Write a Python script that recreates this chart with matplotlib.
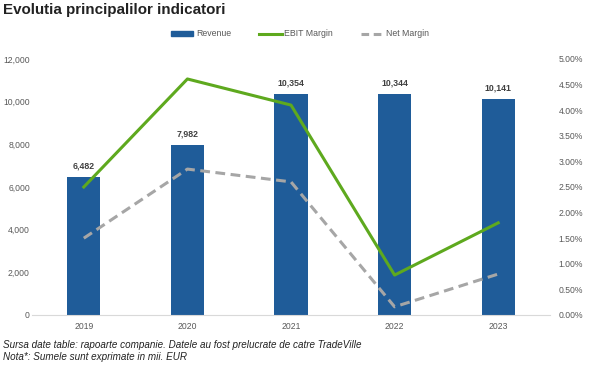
import numpy as np
import matplotlib.pyplot as plt
from matplotlib.lines import Line2D
from matplotlib.patches import Patch
from matplotlib.ticker import FuncFormatter

plt.rcParams['font.family'] = ['Liberation Sans', 'DejaVu Sans']

# Data
years = ['2019', '2020', '2021', '2022', '2023']
revenue = [6482, 7982, 10354, 10344, 10141]
ebit_margin = [2.50, 4.61, 4.10, 0.78, 1.80]   # %
net_margin = [1.50, 2.85, 2.60, 0.16, 0.80]    # %

bar_color = '#1F5C99'
green = '#5EA91E'
grey = '#A6A6A6'
tick_grey = '#595959'

fig = plt.figure(figsize=(6, 3.66), dpi=100)
ax = fig.add_axes([32 / 600, 51 / 366, 518 / 600, 256 / 366])
ax2 = ax.twinx()

x = np.arange(len(years))
bars = ax.bar(x, revenue, width=0.32, color=bar_color, zorder=2)
for xi, v in zip(x, revenue):
    ax.text(xi, v + 300, f'{v:,}', ha='center', va='bottom', fontsize=6.3,
            color='#404040', fontweight='bold')

ax2.plot(x, ebit_margin, color=green, lw=2.2, zorder=3)
ax2.plot(x, net_margin, color=grey, lw=2.2, ls=(0, (3.2, 1.8)), zorder=3)

ax.set_xlim(-0.5, 4.5)
ax.set_ylim(0, 12000)
ax.set_yticks(np.arange(0, 12001, 2000))
ax.yaxis.set_major_formatter(FuncFormatter(lambda v, p: f'{int(v):,}'))
ax2.set_ylim(0, 5)
ax2.set_yticks(np.arange(0, 5.01, 0.5))
ax2.yaxis.set_major_formatter(FuncFormatter(lambda v, p: f'{v:.2f}%'))
ax.set_xticks(x)
ax.set_xticklabels(years)

for a in (ax, ax2):
    for s in a.spines.values():
        s.set_visible(False)
    a.tick_params(length=0, labelsize=6.2, colors=tick_grey)
ax.spines['bottom'].set_visible(True)
ax.spines['bottom'].set_color('#D9D9D9')
ax.tick_params(axis='y', pad=1.5)
ax.tick_params(axis='x', pad=5)
ax2.tick_params(axis='y', pad=6)

fig.text(3 / 600, 1 - 10 / 366, 'Evolutia principalilor indicatori', fontsize=10.9,
         fontweight='bold', color='#222222', ha='left', va='center')

handles = [Patch(color=bar_color), Line2D([], [], color=green, lw=2.2),
           Line2D([], [], color=grey, lw=2.2, ls=(0, (2.5, 1.5)))]
fig.legend(handles, ['Revenue', 'EBIT Margin', 'Net Margin'], loc='center',
           bbox_to_anchor=(0.5, 1 - 34 / 366), ncol=3, frameon=False,
           fontsize=6.3, handlelength=2.6, handleheight=0.5, columnspacing=3.2,
           handletextpad=0.3, labelcolor=tick_grey)

fig.text(3 / 600, 1 - 345 / 366,
         'Sursa date table: rapoarte companie. Datele au fost prelucrate de catre TradeVille',
         fontsize=7.1, style='italic', color='#222222', ha='left', va='center')
fig.text(3 / 600, 1 - 357 / 366, 'Nota*: Sumele sunt exprimate in mii. EUR',
         fontsize=7.1, style='italic', color='#222222', ha='left', va='center')

fig.savefig('out.png', dpi=100)
